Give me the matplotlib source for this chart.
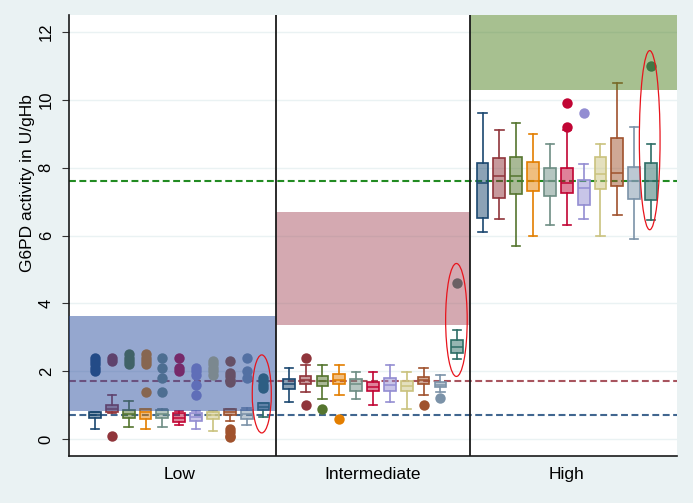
import matplotlib
matplotlib.use("Agg")
import matplotlib.pyplot as plt
from matplotlib.patches import Ellipse
import numpy as np

plt.rcParams['font.family'] = ['Liberation Sans', 'DejaVu Sans']

groups = ["Low", "Intermediate", "High"]
colors = ["#1a476f", "#90353b", "#55752f", "#e37e00", "#6e8e84", "#c10534",
          "#938dd2", "#cac27e", "#a0522d", "#7b92a8", "#2d6d66"]

# ---- Low group ----
low_med = [0.71, 0.88, 0.74, 0.80, 0.74, 0.63, 0.65, 0.70, 0.79, 0.74, 0.95]
low_q1  = [0.61, 0.79, 0.63, 0.59, 0.63, 0.49, 0.53, 0.59, 0.71, 0.59, 0.85]
low_q3  = [0.80, 1.00, 0.85, 0.88, 0.85, 0.76, 0.76, 0.80, 0.88, 0.85, 1.05]
low_lo  = [0.31, 0.76, 0.36, 0.31, 0.36, 0.41, 0.31, 0.24, 0.53, 0.41, 0.66]
low_hi  = [0.80, 1.30, 1.12, 0.88, 0.90, 0.83, 0.83, 0.83, 0.88, 0.92, 1.07]
low_out = [[2.0, 2.1, 2.2, 2.3, 2.4],
           [2.3, 2.4, 0.1],
           [2.2, 2.3, 2.4, 2.5],
           [2.2, 2.3, 2.4, 2.5, 1.4],
           [2.4, 2.1, 1.8, 1.4],
           [2.0, 2.1, 2.4],
           [2.1, 2.0, 1.9, 1.6, 1.3],
           [2.3, 2.2, 2.1, 2.0, 1.9],
           [2.3, 1.95, 1.85, 1.75, 1.68, 0.3, 0.2, 0.1, 0.05],
           [2.4, 2.0, 1.8],
           [1.8, 1.7, 1.6, 1.5]]

# ---- Intermediate group ----
int_med = [1.62, 1.75, 1.72, 1.75, 1.62, 1.54, 1.60, 1.57, 1.75, 1.60, 2.70]
int_q1  = [1.47, 1.62, 1.57, 1.62, 1.42, 1.42, 1.42, 1.42, 1.62, 1.52, 2.55]
int_q3  = [1.78, 1.86, 1.86, 1.91, 1.77, 1.67, 1.81, 1.71, 1.84, 1.67, 2.92]
int_lo  = [1.09, 1.39, 1.19, 1.29, 1.19, 1.00, 1.09, 0.90, 1.29, 1.39, 2.36]
int_hi  = [2.09, 2.19, 2.19, 2.19, 1.99, 1.99, 2.19, 1.99, 2.09, 1.89, 3.22]
int_out = [[], [2.4, 1.0], [0.9], [0.6], [], [], [], [], [1.0], [1.2], [4.6]]

# ---- High group ----
high_med = [7.55, 7.75, 7.75, 7.60, 7.60, 7.55, 7.41, 7.80, 7.85, 7.60, 7.61]
high_q1  = [6.52, 7.12, 7.22, 7.32, 7.16, 7.26, 6.91, 7.38, 7.46, 7.07, 7.06]
high_q3  = [8.13, 8.27, 8.32, 8.18, 7.98, 7.98, 7.63, 8.32, 8.88, 8.03, 8.13]
high_lo  = [6.09, 6.50, 5.69, 6.00, 6.30, 6.30, 6.50, 6.00, 6.60, 5.90, 6.45]
high_hi  = [9.61, 9.10, 9.31, 9.00, 8.71, 9.10, 8.10, 8.71, 10.51, 9.20, 8.71]
high_out = [[], [], [], [], [], [9.2, 9.9], [9.6], [], [], [], [11.0]]

# reference ranges (shaded) and thresholds (dashed)
range_lo = [0.83, 3.36, 10.29]
range_hi = [3.63, 6.69, 12.5]
range_colors = ["#2d50a0", "#aa5564", "#508223"]
thresholds = [0.72, 1.71, 7.61]
thr_colors = ["#41668f", "#a8545e", "#228b22"]

all_stats = [
    (low_med, low_q1, low_q3, low_lo, low_hi, low_out),
    (int_med, int_q1, int_q3, int_lo, int_hi, int_out),
    (high_med, high_q1, high_q3, high_lo, high_hi, high_out),
]

GAP = 11.5
XL, XR = -1.54, 34.54
dividers = [10.75, 22.25]

fig = plt.figure(figsize=(6.93, 5.03), dpi=100)
fig.patch.set_facecolor("#eaf2f3")
ax = fig.add_axes([69/693, 47/503, 608/693, 441/503])
ax.set_facecolor("white")
ax.set_xlim(XL, XR)
ax.set_ylim(-0.5, 12.5)

# grid
for yv in range(0, 13, 2):
    ax.axhline(yv, color="#eaf2f3", lw=1.0, zorder=0.5)

# threshold dashed lines
for t, c in zip(thresholds, thr_colors):
    ax.axhline(t, color=c, lw=1.5, dashes=(3.3, 1.7), zorder=1)

# boxes
for g, (med, q1, q3, lo, hi, out) in enumerate(all_stats):
    for i in range(11):
        pos = g * GAP + i
        c = colors[i]
        st = [dict(med=med[i], q1=q1[i], q3=q3[i], whislo=lo[i], whishi=hi[i],
                   fliers=np.array(out[i]))]
        ax.bxp(st, positions=[pos], widths=0.7, capwidths=0.5, patch_artist=True,
               manage_ticks=False,
               boxprops=dict(facecolor=matplotlib.colors.to_rgba(c, 0.5), edgecolor=c, lw=1.2),
               medianprops=dict(color=c, lw=1.1),
               whiskerprops=dict(color=c, lw=1.2),
               capprops=dict(color=c, lw=1.2),
               flierprops=dict(marker='o', markerfacecolor=c, markeredgewidth=0,
                               markersize=7.5, linestyle='none'),
               zorder=2)

# shaded ranges drawn over boxes
edges = [XL, dividers[0], dividers[1], XR]
for g in range(3):
    ax.fill_between([edges[g], edges[g + 1]], range_lo[g], range_hi[g],
                    color=range_colors[g], alpha=0.5, lw=0, zorder=3)

# dividers
for d in dividers:
    ax.axvline(d, color="#1a1a1a", lw=1.3, zorder=4)

# red ellipses highlighting the last box
ell = [(9.9, 1.33, 1.13, 2.3), (21.45, 3.51, 1.28, 3.33), (32.92, 8.81, 1.23, 5.28)]
for (x0, y0, w, h) in ell:
    ax.add_patch(Ellipse((x0, y0), w, h, fill=False, edgecolor="#e8141c", lw=0.9, zorder=5))

# axes styling
for s in ["top", "right"]:
    ax.spines[s].set_visible(False)
for s in ["left", "bottom"]:
    ax.spines[s].set_color("#1a1a1a")
    ax.spines[s].set_linewidth(1.2)

ax.set_yticks(range(0, 13, 2))
ax.set_yticklabels([str(v) for v in range(0, 13, 2)], rotation=90, va="center", fontsize=12)
ax.tick_params(axis="y", length=5, width=0.8, color="#333333", pad=6)
ax.set_xticks([g * GAP + 5 for g in range(3)])
ax.set_xticklabels(groups, fontsize=12.5)
ax.tick_params(axis="x", length=0, pad=8)
ax.set_ylabel("G6PD activity in U/gHb", fontsize=12.5)
ax.yaxis.set_label_coords(-0.056, 0.62)

fig.savefig("out.png", dpi=100, facecolor=fig.get_facecolor())
